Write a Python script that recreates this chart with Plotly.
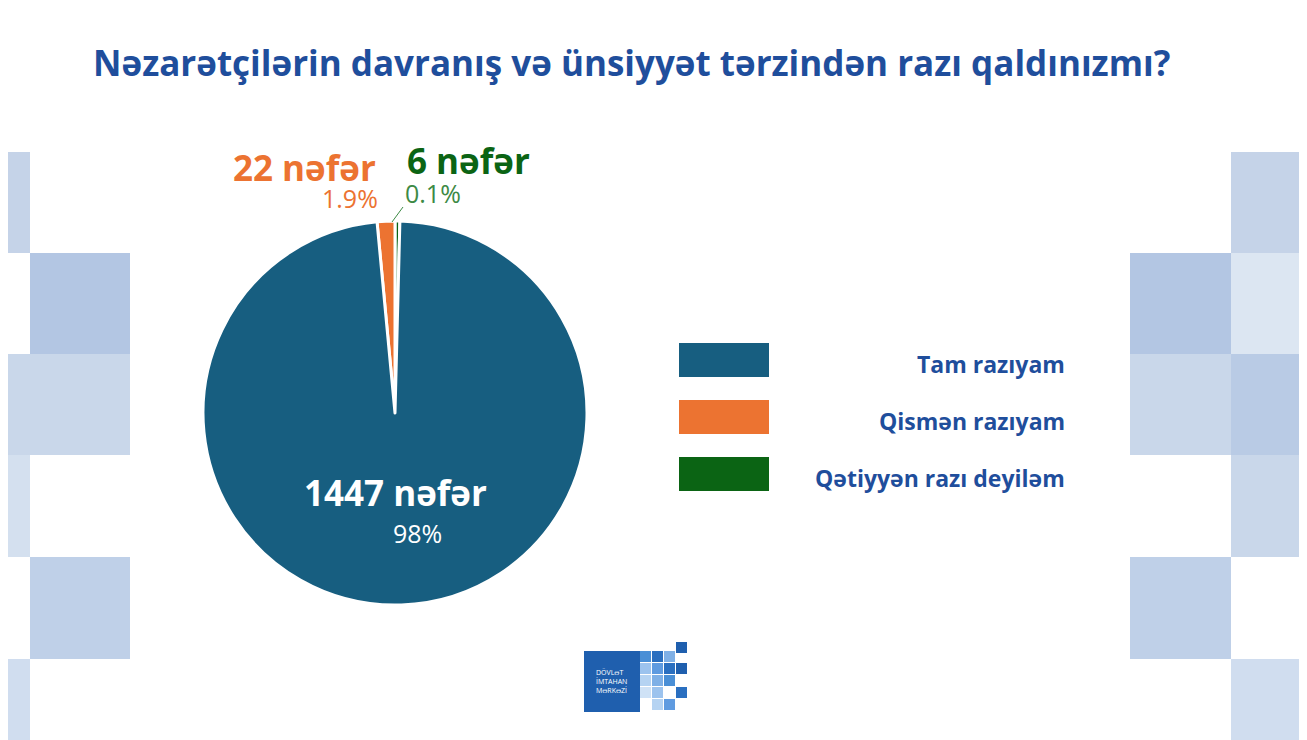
import plotly.graph_objects as go

# data
categories = ["Qətiyyən razı deyiləm", "Qismən razıyam", "Tam razıyam"]
counts = [6, 22, 1447]
percents = ["0.1%", "1.9%", "98%"]
colors = ["#0b6414", "#ec7331", "#175e80"]
legend_order = ["Tam razıyam", "Qismən razıyam", "Qətiyyən razı deyiləm"]

W, H = 1307, 740
OFF = 8  # page margin offset


def px(x):
    return (x - OFF) / W


def py(y):
    return 1 - (y - OFF) / H


fig = go.Figure()
fig.add_trace(go.Pie(
    labels=categories, values=counts, sort=False, direction="counterclockwise",
    rotation=0, marker=dict(colors=colors, line=dict(color="white", width=3)),
    textinfo="none", hoverinfo="label+value", showlegend=False,
    domain=dict(x=[px(203), px(587)], y=[py(605), py(221)]),
))

shapes = []
# decorative squares at the sides
deco = [(0, 152, 30, 253, "#c5d3e8"), (30, 253, 130, 354, "#b3c6e3"), (0, 354, 30, 455, "#c9d7ea"),
        (30, 354, 130, 455, "#c9d7ea"), (0, 455, 30, 557, "#d4e0ef"), (30, 557, 130, 659, "#bfd0e8"),
        (0, 659, 30, 740, "#d0ddef"),
        (1231, 152, 1307, 253, "#c5d3e8"), (1130, 253, 1231, 354, "#b3c6e3"), (1231, 253, 1307, 354, "#dce6f2"),
        (1130, 354, 1231, 455, "#c9d7ea"), (1231, 354, 1307, 455, "#b9cbe5"), (1231, 455, 1307, 557, "#c9d7ea"),
        (1130, 557, 1231, 659, "#bfd0e8"), (1231, 659, 1307, 740, "#d0ddef")]
for x0, y0, x1, y1, c in deco:
    shapes.append(dict(type="rect", xref="paper", yref="paper", x0=px(x0), x1=px(x1),
                       y0=py(y1), y1=py(y0), fillcolor=c, line=dict(width=0), layer="below"))

annotations = [dict(x=px(631), y=py(62), xref="paper", yref="paper", showarrow=False,
                    xanchor="center", yanchor="middle",
                    text="<b>Nəzarətçilərin davranış və ünsiyyət tərzindən razı qaldınızmı?</b>",
                    font=dict(size=35, color="#1f4e9c", family="Open Sans"))]

# legend
for i, name in enumerate(legend_order):
    c = colors[categories.index(name)]
    yc = 360 + i * 57
    shapes.append(dict(type="rect", xref="paper", yref="paper", x0=px(679), x1=px(769),
                       y0=py(yc + 17), y1=py(yc - 17), fillcolor=c, line=dict(width=0)))
    annotations.append(dict(x=px(1067), y=py(yc + 4), xref="paper", yref="paper", showarrow=False,
                            xanchor="right", yanchor="middle", text="<b>" + name + "</b>",
                            font=dict(size=23, color="#1f4e9c", family="Open Sans")))

# slice labels
lab = [(468, 160, 403, 193, "#0b6414", "#3d8a45", "left"),
       (304, 167, 350, 198, "#ec7331", "#ec7331", "center"),
       (395, 492, 417, 533, "white", "white", "center")]
for i, (x1, y1, x2, y2, c1, c2, anc) in enumerate(lab):
    annotations.append(dict(x=px(x1), y=py(y1), xref="paper", yref="paper", showarrow=False,
                            xanchor="center", yanchor="middle",
                            text="<b>%d nəfər</b>" % counts[i], font=dict(size=35, color=c1, family="Open Sans")))
    annotations.append(dict(x=px(x2), y=py(y2), xref="paper", yref="paper", showarrow=False, yanchor="middle",
                            xanchor=anc, text=percents[i], font=dict(size=25, color=c2, family="Open Sans")))
shapes.append(dict(type="line", xref="paper", yref="paper", x0=px(392), y0=py(222),
                   x1=px(403), y1=py(207), line=dict(color="#3d8a45", width=1)))

# logo
shapes.append(dict(type="rect", xref="paper", yref="paper", x0=px(584), x1=px(640),
                   y0=py(712), y1=py(651), fillcolor="#1f5fae", line=dict(width=0)))
logo = [(640, 651, "#4a8fd6"), (652, 651, "#2a6fc0"), (664, 651, "#7fb0e6"), (676, 642, "#1f5fae"),
        (640, 663, "#9cc3ee"), (652, 663, "#5f9be0"), (664, 663, "#2a6fc0"), (676, 663, "#1f5fae"),
        (640, 675, "#b5d3f2"), (652, 675, "#7fb0e6"), (664, 675, "#4a8fd6"), (676, 687, "#2a6fc0"),
        (640, 687, "#cfe2f6"), (652, 687, "#9cc3ee"), (664, 699, "#5f9be0"), (652, 699, "#b5d3f2")]
for x0, y0, c in logo:
    shapes.append(dict(type="rect", xref="paper", yref="paper", x0=px(x0), x1=px(x0 + 11),
                       y0=py(y0 + 11), y1=py(y0), fillcolor=c, line=dict(width=0)))
annotations.append(dict(x=px(594), y=py(681), xref="paper", yref="paper", showarrow=False, xanchor="left",
                        yanchor="middle", text="DÖVLƏT<br>İMTAHAN<br>MƏRKƏZİ", align="left",
                        font=dict(size=7, color="white", family="Open Sans")))

fig.update_layout(width=W, height=H, margin=dict(l=0, r=0, t=0, b=0),
                  paper_bgcolor="white", plot_bgcolor="white",
                  shapes=shapes, annotations=annotations)
fig.write_html("out.html")
